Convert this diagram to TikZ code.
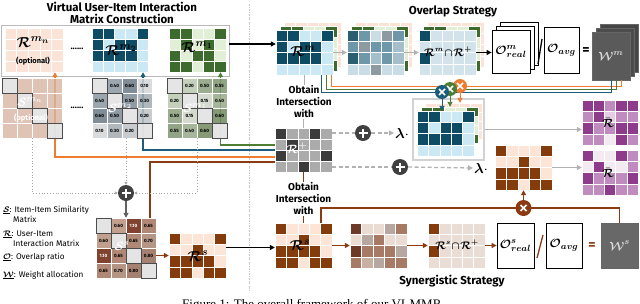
\documentclass[tikz,border=0pt]{standalone}
\usepackage{amsmath}
\usepackage{bm}
\usepackage{fontspec}
\setmainfont{Fira Sans}
\newfontfamily\capfont{Liberation Serif}
\usetikzlibrary{arrows.meta}
\definecolor{tD}{HTML}{0E4C66}\definecolor{tL}{HTML}{CBE8F5}
\definecolor{gD}{HTML}{3D6B2E}\definecolor{gL}{HTML}{E0EFD6}
\definecolor{pL}{HTML}{FBE4D7}
\definecolor{kD}{HTML}{3B3B3B}\definecolor{kL}{HTML}{ABABAB}
\definecolor{bD}{HTML}{843C0C}\definecolor{bL}{HTML}{FCE4D6}
\definecolor{iL}{HTML}{D2E3EB}\definecolor{sL}{HTML}{E9DDD5}
\definecolor{uD}{HTML}{8E3B8B}\definecolor{uM}{HTML}{C08BBE}\definecolor{uL}{HTML}{E6CCE4}\definecolor{uW}{HTML}{F3EAF2}
\definecolor{xa}{HTML}{2C5E72}\definecolor{xb}{HTML}{6E97A9}\definecolor{xc}{HTML}{A4BFCB}\definecolor{xd}{HTML}{CADDE6}\definecolor{xe}{HTML}{8D9AA1}
\definecolor{ya}{HTML}{6D3A27}\definecolor{yb}{HTML}{EADBD3}\definecolor{yc}{HTML}{B6A8A1}\definecolor{yd}{HTML}{A67A65}\definecolor{ye}{HTML}{C8B0A3}
\definecolor{m1}{HTML}{8B97A0}\definecolor{m2}{HTML}{6C7A85}\definecolor{m3}{HTML}{D3D5D6}\definecolor{m4}{HTML}{7C8993}\definecolor{m5}{HTML}{A2ABB1}\definecolor{m6}{HTML}{BEC3C6}
\definecolor{n1}{HTML}{BAC7B0}\definecolor{n2}{HTML}{899E7C}\definecolor{n3}{HTML}{7E9471}\definecolor{n4}{HTML}{CDD5C6}\definecolor{n5}{HTML}{97A98A}\definecolor{n6}{HTML}{72885F}
\definecolor{q1}{HTML}{BC9682}\definecolor{q2}{HTML}{732F19}\definecolor{q3}{HTML}{A87B66}\definecolor{q4}{HTML}{AD8976}\definecolor{q5}{HTML}{9A7360}
\definecolor{sn}{HTML}{D7B4A3}\definecolor{dg}{HTML}{E4E4E4}
\definecolor{cO}{HTML}{ED7D31}\definecolor{cT}{HTML}{1B5E7B}\definecolor{cG}{HTML}{4E7D36}\definecolor{cB}{HTML}{8A3B12}
\definecolor{plusF}{HTML}{404040}\definecolor{wF}{HTML}{5A5A5A}\definecolor{wS}{HTML}{686868}

\newcommand*\pTeal{{tD,tD,tL,tL,tD},{tD,tL,tD,tD,tL},{tD,tD,tD,tD,tL},{tL,tL,tL,tL,tL}}
\newcommand*\pGreen{{gD,gD,gL,gL,gD},{gL,gD,gL,gD,gL},{gD,gL,gD,gD,gL},{gD,gD,gL,gD,gD}}
\newcommand*\pPeach{{pL,pL,pL,pL,pL},{pL,pL,pL,pL,pL},{pL,pL,pL,pL,pL},{pL,pL,pL,pL,pL}}
\newcommand*\pGray{{kD,kL,kL,kD,kL},{kL,kD,kL,kL,kL},{kD,kL,kL,kL,kD},{kL,kL,kD,kL,kL}}
\newcommand*\pBrown{{bD,bL,bL,bL,bD},{bL,bL,bD,bL,bL},{bD,bD,bD,bD,bL},{bD,bD,bL,bD,bD}}
\newcommand*\pRmi{{tD,iL,iL,iL,iL},{iL,iL,iL,iL,iL},{tD,iL,iL,iL,iL},{iL,iL,iL,iL,iL}}
\newcommand*\pRsi{{bD,sL,sL,sL,sL},{sL,sL,sL,sL,sL},{bD,sL,sL,sL,sL},{sL,sL,sL,sL,sL}}
\newcommand*\pRmx{{xa,xb,xd,xe,xb},{xb,xe,xb,xb,xc},{xa,xb,xc,xb,xc},{xd,xd,xe,xd,xd}}
\newcommand*\pRsx{{ya,yb,yb,yc,yd},{yb,yc,yd,yb,yb},{ya,yd,yd,yd,yc},{yd,ye,yc,yd,yd}}
\newcommand*\pPurA{{uD,uD,uM,uD,uD},{uM,uD,uL,uM,uM},{uD,uM,uM,uD,uD},{uM,uM,uW,uD,uM}}
\newcommand*\pPurB{{uD,uW,uW,uD,uM},{uW,uD,uW,uW,uM},{uD,uM,uM,uM,uD},{uM,uM,uD,uM,uM}}
\newcommand*\sTwo{{dg/{},m1/0.40,m2/0.60,m3/0.10},{m1/0.40,dg/{},m4/0.50,m5/0.30},{m2/0.60,m4/0.50,dg/{},m6/0.20},{m3/0.10,m5/0.30,m6/0.20,dg/{}}}
\newcommand*\sOne{{dg/{},n1/0.20,n2/0.50,n3/0.55},{n1/0.20,dg/{},n4/0.15,n5/0.40},{n2/0.50,n4/0.15,dg/{},n6/0.60},{n3/0.55,n5/0.40,n6/0.60,dg/{}}}
\newcommand*\sSyn{{dg/{},q1/0.60,q2/\textcolor{white}{1.10},q3/0.65},{q1/0.60,dg/{},q3/0.65,q4/0.70},{q2/\textcolor{white}{1.10},q3/0.65,dg/{},q5/0.80},{q3/0.65,q4/0.70,q5/0.80,dg/{}}}
\newcommand*\sNn{{dg/{},sn/{},sn/{},sn/{}},{sn/{},dg/{},sn/{},sn/{}},{sn/{},sn/{},dg/{},sn/{}},{sn/{},sn/{},sn/{},dg/{}}}

\newcommand{\gridm}[8]{%
  \foreach \rw [count=\ri from 0] in #8 {%
    \foreach \cl [count=\ci from 0] in \rw {%
      \path[fill=\cl, draw=white, line width=0.5pt] ({#2+\ci*#4},{#3+\ri*#5}) rectangle ++(#4,#5);
    }%
  }%
  \node[inner sep=0, minimum width={#4*#6}, minimum height={#5*#7}] (#1) at ({#2+#4*#6/2},{#3+#5*#7/2}) {};
}
\newcommand{\mkS}[5]{%
  \foreach \rw [count=\ri from 0] in #5 {%
    \foreach \cl/\vv [count=\ci from 0] in \rw {%
      \path[fill=\cl, fill opacity=#4, draw=white, line width=0.4pt] ({#2+\ci*15},{#3+\ri*15}) rectangle ++(15,15);
      \node[num] at ({#2+\ci*15+7.5},{#3+\ri*15+7.5}) {\vv};
    }%
  }%
  \foreach \di in {0,...,3} {\path[diagc] ({#2+\di*15},{#3+\di*15}) rectangle ++(15,15);}
  \node[inner sep=0, minimum size=60] (#1) at ({#2+30},{#3+30}) {};
}

\tikzset{
  lbl/.style={inner sep=0, font=\fontsize{14}{14}\selectfont},
  num/.style={inner sep=0, font=\fontsize{4.6}{5}\selectfont\bfseries},
  diagc/.style={draw=black!70, line width=0.8pt, fill=dg, fill opacity=0.85},
  ttl/.style={font=\fontsize{11.5}{13}\selectfont\bfseries, inner sep=0},
  oiw/.style={font=\fontsize{10}{12}\selectfont\bfseries, align=center, inner sep=1pt},
  leg/.style={font=\fontsize{8.2}{9}\selectfont, inner sep=0, anchor=base west},
  tip/.style={-{Triangle[length=5pt,width=5pt]}},
  blk/.style={tip, line width=1.2pt, draw=black},
  gar/.style={tip, line width=1.2pt, draw=gray!60},
  dsh/.style={draw=gray!60, line width=1.3pt, dash pattern=on 4pt off 2.5pt},
  dsha/.style={dsh, tip},
  lO/.style={draw=cO, line width=1.2pt}, lT/.style={draw=cT, line width=1.2pt},
  lG/.style={draw=cG, line width=1.2pt}, lB/.style={draw=cB, line width=1.2pt},
  thn/.style={line width=0.9pt},
  dotl/.style={draw=gray!70, line width=0.8pt, dotted},
  obox/.style={draw=black, line width=0.8pt, fill=white, inner sep=0},
  wbx/.style={draw=gray!80!black, line width=0.5pt, fill=wF, inner sep=0, text=gray!30},
  pluscirc/.style={circle, fill=plusF, minimum size=16pt, inner sep=0, path picture={
     \draw[white, line width=1.6pt] ([xshift=-4.5pt]path picture bounding box.center) -- ([xshift=4.5pt]path picture bounding box.center)
       ([yshift=-4.5pt]path picture bounding box.center) -- ([yshift=4.5pt]path picture bounding box.center);}},
  mulc/.style={circle, fill=#1, minimum size=14pt, inner sep=0, path picture={
     \draw[white, line width=1.5pt] ([shift={(-3pt,-3pt)}]path picture bounding box.center) -- ([shift={(3pt,3pt)}]path picture bounding box.center)
       ([shift={(-3pt,3pt)}]path picture bounding box.center) -- ([shift={(3pt,-3pt)}]path picture bounding box.center);}},
}

\begin{document}
\begin{tikzpicture}[x=1pt,y=-1pt]
\useasboundingbox (0,0) rectangle (640,303);
\clip (0,0) rectangle (640,303);

% divider
\draw[draw=gray!45, line width=0.7pt, dash pattern=on 2pt off 1.2pt on 0.4pt off 1.2pt] (249,4) -- (249,292);

% titles
\node[ttl] (t1) at (122,7) {Virtual User-Item Interaction};
\node[ttl] (t2) at (122,19) {Matrix Construction};
\node[ttl] (t3) at (453,11) {Overlap Strategy};
\node[ttl] (t4) at (452,281) {Synergistic Strategy};

% top box with modality matrices
\node[draw=gray!55, line width=0.9pt, fill=white, minimum width=228, minimum height=51, inner sep=0] (topbox) at (115,50.5) {};
\gridm{rmn}{5}{28}{11.6}{11}{5}{4}{\pPeach}
\gridm{rm2}{92}{28}{11.2}{11}{5}{4}{\pTeal}
\gridm{rm1}{169}{28}{11.4}{11}{5}{4}{\pGreen}
\node[lbl, font=\fontsize{15.5}{15.5}\selectfont] (rmnL) at (33,42) {$\bm{\mathcal{R}^{m_n}}$};
\node[font=\fontsize{7.5}{8}\selectfont\bfseries, inner sep=0] (rmnO) at (33,61) {(optional)};
\node[lbl, font=\fontsize{15.5}{15.5}\selectfont] (rm2L) at (121,50) {$\bm{\mathcal{R}^{m_2}}$};
\node[lbl, font=\fontsize{15.5}{15.5}\selectfont] (rm1L) at (197,47) {$\bm{\mathcal{R}^{m_1}}$};
\node[font=\fontsize{9}{9}\selectfont\bfseries, inner sep=0] (dots1) at (77,49) {......};

% R+
\gridm{rplus}{275}{128}{11.4}{11}{5}{4}{\pGray}
\node[lbl, text=white, font=\fontsize{13}{13}\selectfont] (rplusL) at (297,148) {$\bm{\mathcal{R}^{+}}$};

% S^s
\mkS{ss}{96}{218}{0.9}{\sSyn}
\node[lbl, text=white, font=\fontsize{13}{13}\selectfont] (ssL) at (122,246) {$\bm{\mathcal{S}^{s}}$};

% coloured feedback lines
\coordinate (rmnA) at ([xshift=21pt]rmn.south);
\coordinate (rm2A) at ([xshift=23pt]rm2.south);
\coordinate (rm1A) at ([xshift=23pt]rm1.south);
\coordinate (ssA) at ([xshift=24pt]ss.north);
\draw[lO, tip] ([yshift=-7pt]rplus.west) -| (rmnA);
\draw[lT, tip] (rplus.west) -| (rm2A);
\draw[lG, tip] ([yshift=5pt]rplus.west) -| (rm1A);
\draw[lB] ([yshift=-12pt]rplus.west) -| (ssA);

% similarity matrices
\mkS{smn}{2}{78}{0.8}{\sNn}
\mkS{sm2}{92}{78}{0.85}{\sTwo}
\mkS{sm1}{167}{78}{0.85}{\sOne}
\node[lbl, text=white, font=\fontsize{13}{13}\selectfont] (smnL) at (30,102) {$\bm{\mathcal{S}^{m_n}}$};
\node[font=\fontsize{7.5}{8}\selectfont\bfseries, text=white, inner sep=0] (smnO) at (31,118) {(optional)};
\node[lbl, text=white, font=\fontsize{13}{13}\selectfont] (sm2L) at (120,108) {$\bm{\mathcal{S}^{m_2}}$};
\node[lbl, text=white, font=\fontsize{13}{13}\selectfont] (sm1L) at (195,108) {$\bm{\mathcal{S}^{m_1}}$};
\node[font=\fontsize{9}{9}\selectfont\bfseries, inner sep=0] (dots2) at (77,108) {......};

% sum of similarities
\node[pluscirc] (pl1) at (126,193) {};
\draw[dotl, -{Triangle[length=3pt,width=3pt]}] (smn.south) |- (pl1.west);
\draw[dotl, -{Triangle[length=3pt,width=3pt]}] (sm2.south -| pl1.north) -- (pl1.north);
\draw[dotl, -{Triangle[length=3pt,width=3pt]}] (sm1.south) |- (pl1.east);
\draw[tip, line width=1.1pt, draw=gray!75!black] (pl1.south) -- (ss.north);

% legend
\node[leg] (lgS) at (3,212) {$\underline{\bm{\mathcal{S}}}$: Item-Item Similarity};
\node[leg] (lgS2) at (13,222) {Matrix};
\node[leg] (lgR) at (3,236) {$\underline{\bm{\mathcal{R}}}$: User-Item};
\node[leg] (lgR2) at (13,246) {Interaction Matrix};
\node[leg] (lgO) at (3,259) {$\underline{\bm{\mathcal{O}}}$: Overlap ratio};
\node[leg] (lgW) at (3,277) {$\underline{\bm{\mathcal{W}}}$: Weight allocation};

% R^s left and right
\gridm{rsl}{169}{233}{11.4}{11.25}{5}{4}{\pBrown}
\node[lbl, font=\fontsize{15}{15}\selectfont] (rslL) at (198,256) {$\bm{\mathcal{R}^{s}}$};
\draw[lB, tip] (ss.east |- rsl.west) -- (rsl.west);
\gridm{rsr}{275}{223}{11.4}{11.25}{5}{4}{\pBrown}
\node[lbl] (rsrL) at (300,245) {$\bm{\mathcal{R}^{s}}$};
\draw[blk] ([yshift=8pt]rsl.east) -- ([yshift=8pt]rsl.east -| rsr.west);

% overlap row
\gridm{rmP}{284}{22}{11.4}{11.25}{5}{4}{\pPeach}
\gridm{rmG}{280}{26}{11.4}{11.25}{5}{4}{\pGreen}
\gridm{rm}{276}{30}{11.4}{11.25}{5}{4}{\pTeal}
\node[lbl] (rmL) at (303,51) {$\bm{\mathcal{R}^{m}}$};
\coordinate (arrA) at ([yshift=6.5pt]topbox.east);
\draw[blk] (arrA) -- (arrA -| rm.west);

\gridm{rmxP}{355}{22}{11.4}{11.25}{5}{4}{\pPeach}
\gridm{rmxG}{351}{26}{11.4}{11.25}{5}{4}{\pGreen}
\gridm{rmx}{347}{30}{11.4}{11.25}{5}{4}{\pRmx}
\gridm{rmiP}{427}{22}{11.4}{11.25}{5}{4}{\pPeach}
\gridm{rmiG}{423}{26}{11.4}{11.25}{5}{4}{\pGreen}
\gridm{rmi}{419}{30}{11.4}{11.25}{5}{4}{\pRmi}
\node[inner sep=0, font=\fontsize{10.5}{11}\selectfont] (rmiL) at (448,52) {$\bm{\mathcal{R}^{m}\!\cap\!\mathcal{R}^{+}}$};
\draw[gar] (rm.east) -- (rmx.west);
\draw[gar] (rmx.east) -- (rmi.west);

\node[obox, minimum width=38, minimum height=43] (orl3) at (519,43.5) {};
\node[obox, minimum width=38, minimum height=43] (orl2) at (515,47.5) {};
\node[obox, minimum width=38, minimum height=43] (orl) at (511,51.5) {};
\node[inner sep=0, font=\fontsize{12.5}{13}\selectfont] (orlL) at (511,51.5) {$\bm{\mathcal{O}^{m}_{real}}$};
\draw[blk] (rmi.east) -- (rmi.east -| orl.west);
\draw[line width=1.3pt] (538,64) -- (542,39);
\node[obox, minimum width=35, minimum height=46] (oav) at (561.5,50) {};
\node[inner sep=0, font=\fontsize{12.5}{13}\selectfont] (oavL) at (561.5,50) {$\bm{\mathcal{O}_{avg}}$};
\node[inner sep=0, font=\fontsize{14}{14}\selectfont\bfseries] (eq1) at (586,51) {=};
\node[wbx, minimum width=38, minimum height=48, fill=gray!55!black] (wm3) at (619,48) {};
\node[wbx, minimum width=38, minimum height=48, fill=gray!60!black] (wm2) at (615,52) {};
\node[wbx, minimum width=38, minimum height=48] (wm) at (611,56) {};
\node[inner sep=0, text=gray!30, font=\fontsize{13}{13}\selectfont] (wmL) at (611,56) {$\bm{\mathcal{W}^{m}}$};

% weighted modality block
\node[draw=gray!35, line width=1.2pt, fill=white, minimum width=71, minimum height=61, inner sep=0] (wbox) at (448.5,129.5) {};
\gridm{wP}{425}{103}{11.4}{9}{5}{4}{\pPeach}
\gridm{wG}{421}{107}{11.4}{9}{5}{4}{\pGreen}
\gridm{wF}{417}{111}{11.4}{11.25}{5}{4}{\pTeal}

% weight lines from W^m
\coordinate (lvO) at (0,86); \coordinate (lvG) at (0,89); \coordinate (lvT) at (0,92); \coordinate (lvB) at (0,208);
\coordinate (rmO) at ([xshift=26.5pt]rm.south); \coordinate (rmGr) at ([xshift=21.5pt]rm.south); \coordinate (rmT) at ([xshift=16.5pt]rm.south);
\coordinate (wmO) at ([xshift=10pt]wm.south); \coordinate (wmGr) at ([xshift=5pt]wm.south); \coordinate (wmT) at (wm.south);
\draw[lO, thn] (wmO) -- (wmO |- lvO) -- (rmO |- lvO) -- (rmO);
\draw[lG, thn] (wmGr) -- (wmGr |- lvG) -- (rmGr |- lvG) -- (rmGr);
\draw[lT, thn] (wmT) -- (wmT |- lvT) -- (rmT |- lvT) -- (rmT);
\node[mulc=cO] (xo) at (460,86) {};
\node[mulc=cG] (xg) at (450,89) {};
\node[mulc=cT] (xt) at (442,92) {};
\draw[lO, thn, tip] (xo.south) -- (xo.south |- wP.north);
\draw[lG, thn, tip] (xg.south) -- (xg.south |- wG.north);
\draw[lT, thn, tip] (xt.south) -- (xt.south |- wF.north);

% obtain intersection texts
\node[oiw] (oi1) at (304,102) {Obtain\\Intersection\\with};
\draw[draw=gray!60, line width=1pt] (rm.south) -- (rm.south |- oi1.north);
\draw[draw=gray!60, line width=1pt] (oi1.south -| rplus.north) -- (rplus.north);
\node[oiw] (oi2) at (303.5,199) {Obtain\\Intersection\\with};
\draw[lB, thn] (rplus.south) -- (rplus.south |- oi2.north);
\draw[lB, thn] (oi2.south -| rsr.north) -- (rsr.north);

% dashed lambda branches
\node[pluscirc] (pl2) at (363,133) {};
\node[pluscirc] (pl3) at (400,167) {};
\node[inner sep=1pt, font=\fontsize{14}{14}\selectfont] (lam1) at (402,133) {$\bm{\lambda}\cdot$};
\node[inner sep=1pt, font=\fontsize{14}{14}\selectfont] (lam2) at (481,168) {$\bm{\lambda}\cdot$};
\draw[dsh] ([yshift=17pt]rplus.east) -- (pl2.west);
\draw[dsha] (pl2.east) -- (lam1.west);
\draw[dsh] ([yshift=-17pt]rplus.east) -- (pl3.west);
\draw[dsha] (pl3.east) -- (lam2.west);

% weighted synergistic matrix
\gridm{bw}{495}{145}{11.4}{11.25}{5}{4}{\pBrown}

% final matrices
\gridm{rbt}{582}{100}{11.2}{11.25}{5}{4}{\pPurA}
\gridm{rbb}{582}{150}{11.2}{11.25}{5}{4}{\pPurB}
\node[lbl, font=\fontsize{13}{13}\selectfont] (rbtL) at (608,123) {$\bm{\bar{\mathcal{R}}}$};
\node[lbl, font=\fontsize{13}{13}\selectfont] (rbbL) at (608,173) {$\bm{\bar{\mathcal{R}}}$};
\draw[gar] (wbox.east) -- (wbox.east -| rbt.west);
\draw[gar] (bw.east) -- (bw.east -| rbb.west);

% synergistic row
\gridm{rsx}{350}{223}{11.4}{11.25}{5}{4}{\pRsx}
\gridm{rsi}{428}{223}{11.4}{11.25}{5}{4}{\pRsi}
\node[inner sep=0, font=\fontsize{10.5}{11}\selectfont] (rsiL) at (457,245) {$\bm{\mathcal{R}^{s}\!\cap\!\mathcal{R}^{+}}$};
\node[obox, minimum width=37, minimum height=45] (osr) at (515.5,245.5) {};
\node[inner sep=0, font=\fontsize{12.5}{13}\selectfont] (osrL) at (515.5,245.5) {$\bm{\mathcal{O}^{s}_{real}}$};
\node[obox, minimum width=36, minimum height=45] (osa) at (564,245.5) {};
\node[inner sep=0, font=\fontsize{12.5}{13}\selectfont] (osaL) at (564,245.5) {$\bm{\mathcal{O}_{avg}}$};
\draw[draw=cB, line width=1.3pt] (537,258) -- (543,235);
\node[inner sep=0, font=\fontsize{14}{14}\selectfont\bfseries, text=cB] (eq2) at (592,246) {=};
\node[wbx, fill=wS, minimum width=37, minimum height=45] (ws) at (619.5,245.5) {};
\node[inner sep=0, text=gray!30, font=\fontsize{13}{13}\selectfont] (wsL) at (619.5,245.5) {$\bm{\mathcal{W}^{s}}$};
\draw[lB, tip] (rsr.east) -- (rsx.west);
\draw[lB, tip] (rsx.east) -- (rsi.west);
\draw[lB, tip] (rsi.east) -- (osr.west);

% synergistic weight line
\coordinate (rsB) at ([xshift=17.5pt]rsr.north);
\draw[lB] (rsB) -- (rsB |- lvB) -- (ws.north |- lvB) -- (ws.north);
\node[mulc=cB, minimum size=16pt] (xb) at (bw.south |- lvB) {};
\draw[lB, tip] (xb.north) -- (bw.south);

% caption (cut by the lower edge)
\node[anchor=base west, inner sep=0, font=\capfont\fontsize{13}{14}\selectfont] (cap) at (182,308.5) {Figure 1: The overall framework of our VI-MMR};
\end{tikzpicture}
\end{document}
